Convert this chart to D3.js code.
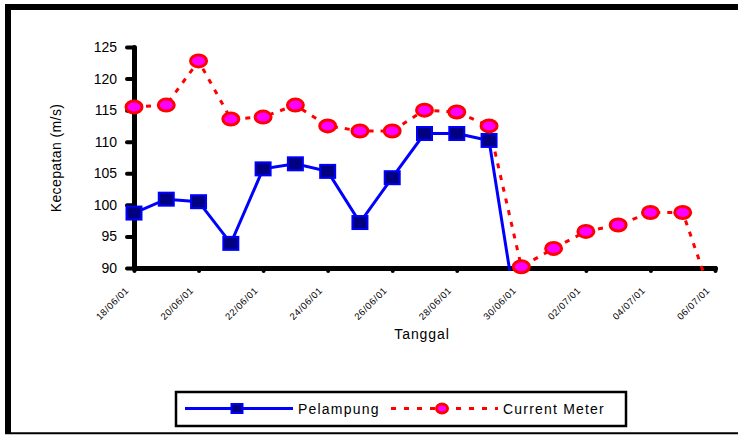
<!DOCTYPE html>
<html>
<head>
<meta charset="utf-8">
<script src="https://cdn.jsdelivr.net/npm/d3@7"></script>
<style>
  html, body { margin: 0; padding: 0; background: #fff; }
  svg { display: block; font-family: "Liberation Sans", Arial, sans-serif; }
</style>
</head>
<body>
<svg id="chart" width="738" height="436"></svg>
<script>
// Daily measurement dates (dd/mm/yy)
const dates = ["18/06/01","19/06/01","20/06/01","21/06/01","22/06/01","23/06/01","24/06/01",
  "25/06/01","26/06/01","27/06/01","28/06/01","29/06/01","30/06/01","01/07/01","02/07/01",
  "03/07/01","04/07/01","05/07/01","06/07/01"];

// Flow velocity by float method (Pelampung)
const pelampung = [98.7, 100.9, 100.5, 93.9, 105.7, 106.5, 105.3, 97.2, 104.3, 111.3, 111.3, 110.2, 78];

// Flow velocity by current meter
const currentMeter = [115.5, 115.8, 122.8, 113.6, 113.9, 115.8, 112.5, 111.7, 111.7, 115.0, 114.7,
  112.5, 90.2, 93.1, 95.8, 96.8, 98.8, 98.8, 84];

const xTickLabels = ["18/06/01","20/06/01","22/06/01","24/06/01","26/06/01","28/06/01",
  "30/06/01","02/07/01","04/07/01","06/07/01"];
const yTicks = [90, 95, 100, 105, 110, 115, 120, 125];

const parse = d3.timeParse("%d/%m/%y");
const fmt = d3.timeFormat("%d/%m/%y");

const svg = d3.select("#chart");
const font = "\"Liberation Sans\", Arial, sans-serif";

// Outer frame
svg.append("line").attr("x1", 8).attr("x2", 8).attr("y1", 4).attr("y2", 434)
  .attr("stroke", "#000").attr("stroke-width", 6);
svg.append("line").attr("x1", 5).attr("x2", 738).attr("y1", 7).attr("y2", 7)
  .attr("stroke", "#000").attr("stroke-width", 6);
svg.append("line").attr("x1", 5).attr("x2", 738).attr("y1", 433.3).attr("y2", 433.3)
  .attr("stroke", "#000").attr("stroke-width", 2);

const x = d3.scaleTime()
  .domain([parse(dates[0]), parse(dates[dates.length - 1])])
  .range([134, 715]);
const y = d3.scaleLinear().domain([90, 125]).range([268, 47]);

// Y axis
const yAxis = svg.append("g").attr("transform", `translate(${x.range()[0]},0)`)
  .call(d3.axisLeft(y).tickValues(yTicks).tickSize(7).tickSizeOuter(0).tickPadding(10));
yAxis.select(".domain").attr("stroke-width", 5).attr("stroke-linecap", "round");
yAxis.selectAll(".tick line").attr("stroke-width", 4).attr("stroke-linecap", "round");
yAxis.selectAll(".tick text").attr("font-size", 14).attr("font-family", font).attr("fill", "#000");

// X axis
const xAxis = svg.append("g").attr("transform", `translate(0,${y.range()[0]})`)
  .call(d3.axisBottom(x).tickValues(xTickLabels.map(parse)).tickSize(3).tickSizeOuter(0).tickFormat(fmt));
xAxis.select(".domain").attr("stroke-width", 5).attr("stroke-linecap", "round");
xAxis.selectAll(".tick line").attr("stroke-width", 4).attr("stroke-linecap", "round");
xAxis.selectAll(".tick text")
  .attr("font-size", 9.5).attr("font-family", font).attr("fill", "#000")
  .attr("letter-spacing", 0.6)
  .attr("text-anchor", "end").attr("x", 0).attr("y", 0).attr("dy", 0)
  .attr("transform", "translate(-5,23) rotate(-45)");

// Axis titles
svg.append("text").attr("x", 422).attr("y", 339).attr("text-anchor", "middle")
  .attr("font-size", 14).attr("letter-spacing", 0.9).text("Tanggal");
svg.append("text").attr("transform", "translate(61,158) rotate(-90)").attr("text-anchor", "middle")
  .attr("font-size", 14).attr("letter-spacing", 0.4).text("Kecepatan (m/s)");

// Plot clip for the lines
svg.append("clipPath").attr("id", "plotClip").append("rect")
  .attr("x", 120).attr("y", 30).attr("width", 610).attr("height", 241);

const line = d3.line().x((d, i) => x(parse(dates[i]))).y(d => y(d));

svg.append("path").datum(pelampung).attr("clip-path", "url(#plotClip)")
  .attr("d", line).attr("fill", "none").attr("stroke", "#0000ff").attr("stroke-width", 3);
svg.append("path").datum(currentMeter).attr("clip-path", "url(#plotClip)")
  .attr("d", line).attr("fill", "none").attr("stroke", "#ff0000").attr("stroke-width", 3)
  .attr("stroke-dasharray", "5,7");

const inRange = v => v >= 90 && v <= 125;

// Square markers
svg.append("g").selectAll("rect")
  .data(pelampung.map((v, i) => ({ v, i })).filter(d => inRange(d.v)))
  .join("rect")
  .attr("x", d => x(parse(dates[d.i])) - 7.5).attr("y", d => y(d.v) - 6.5)
  .attr("width", 15).attr("height", 13)
  .attr("fill", "#000080").attr("stroke", "#0000ff").attr("stroke-width", 2);

// Round markers
svg.append("g").selectAll("ellipse")
  .data(currentMeter.map((v, i) => ({ v, i })).filter(d => inRange(d.v)))
  .join("ellipse")
  .attr("cx", d => x(parse(dates[d.i]))).attr("cy", d => y(d.v))
  .attr("rx", 8).attr("ry", 6)
  .attr("fill", "#ff00ff").attr("stroke", "#ff0000").attr("stroke-width", 3);

// Legend
const lg = svg.append("g");
lg.append("rect").attr("x", 176).attr("y", 392).attr("width", 450).attr("height", 34)
  .attr("fill", "#fff").attr("stroke", "#000").attr("stroke-width", 2.5);
lg.append("line").attr("x1", 185).attr("x2", 293).attr("y1", 408.5).attr("y2", 408.5)
  .attr("stroke", "#0000ff").attr("stroke-width", 3);
lg.append("rect").attr("x", 231.5).attr("y", 404).attr("width", 11).attr("height", 9)
  .attr("fill", "#000080").attr("stroke", "#0000ff").attr("stroke-width", 2);
lg.append("text").attr("x", 298).attr("y", 413.5).attr("font-size", 14)
  .attr("letter-spacing", 1.2).text("Pelampung");
lg.append("line").attr("x1", 391).attr("x2", 498).attr("y1", 408.5).attr("y2", 408.5)
  .attr("stroke", "#ff0000").attr("stroke-width", 3).attr("stroke-dasharray", "5,8");
lg.append("ellipse").attr("cx", 442).attr("cy", 408.5).attr("rx", 5.5).attr("ry", 4.5)
  .attr("fill", "#ff00ff").attr("stroke", "#ff0000").attr("stroke-width", 3);
lg.append("text").attr("x", 503).attr("y", 413.5).attr("font-size", 14)
  .attr("letter-spacing", 1.2).text("Current Meter");
</script>
</body>
</html>
